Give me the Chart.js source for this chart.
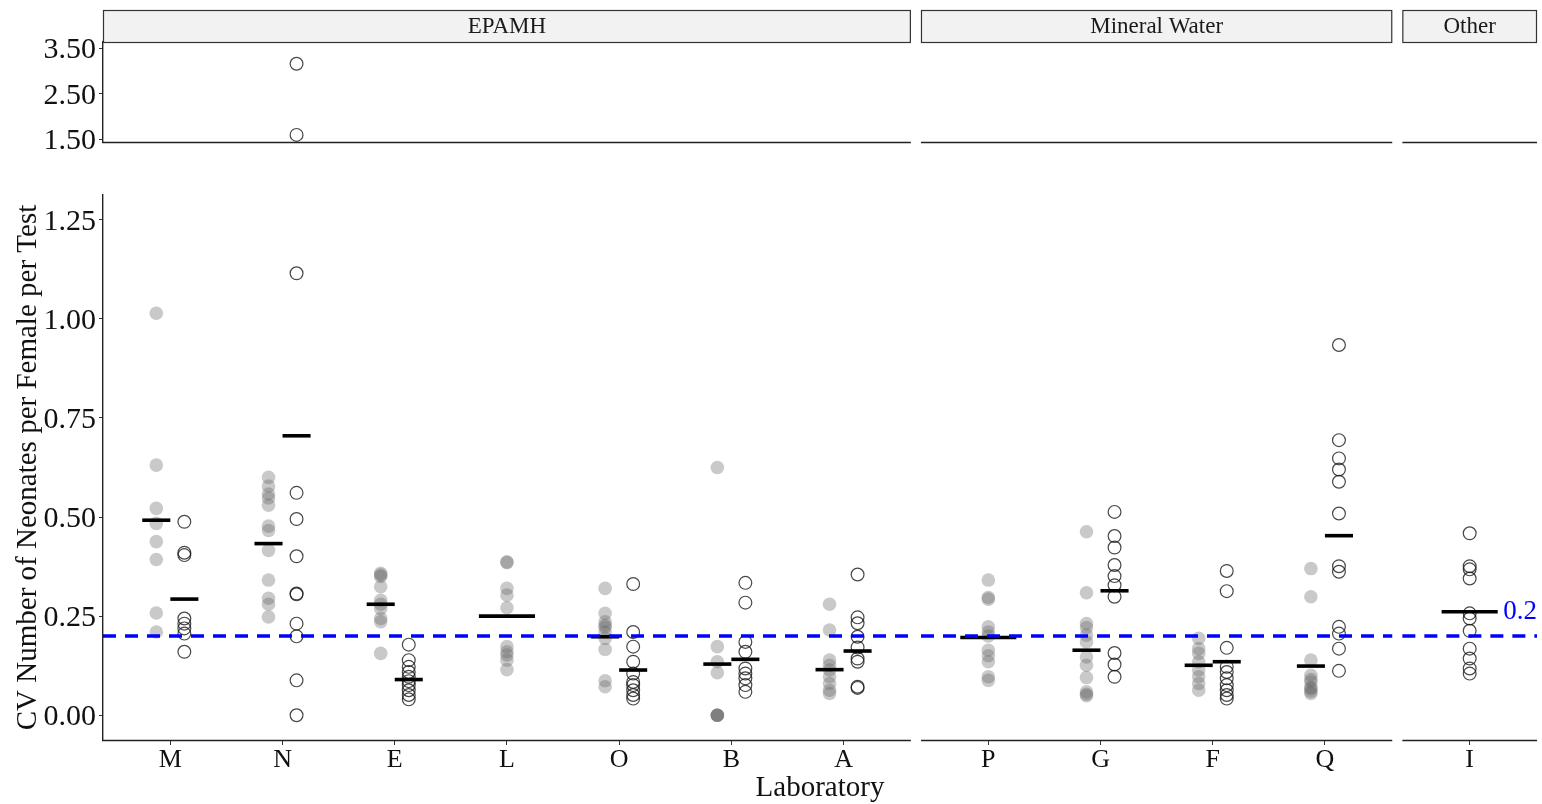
<!DOCTYPE html>
<html><head><meta charset="utf-8">
<script src="https://cdn.jsdelivr.net/npm/chart.js@4.4.1/dist/chart.umd.min.js"></script>
<style>
html,body{margin:0;padding:0;background:#fff;overflow:hidden;}
#wrap{position:relative;width:1542px;height:804px;background:#fff;}
#cTop{position:absolute;left:0;top:0;}
#cBot{position:absolute;left:0;top:160px;}
</style></head><body>
<div id="wrap">
<canvas id="cTop" width="1542" height="160"></canvas>
<canvas id="cBot" width="1542" height="644"></canvas>
</div>
<script>
// ---------------- DATA ----------------
const facetNames = ['EPAMH', 'Mineral Water', 'Other'];
const facetLabs = [['M','N','E','L','O','B','A'], ['P','G','F','Q'], ['I']];
const labs = facetLabs.flat();

// filled grey points (one group) per laboratory, in the order of `labs`
const filledCV = [
  [1.014, 0.631, 0.522, 0.484, 0.438, 0.393, 0.258, 0.210],                       // M
  [0.600, 0.578, 0.558, 0.548, 0.530, 0.477, 0.466, 0.416, 0.341, 0.295, 0.280, 0.248], // N
  [0.358, 0.354, 0.350, 0.324, 0.290, 0.280, 0.269, 0.244, 0.236, 0.156],          // E
  [0.387, 0.385, 0.320, 0.303, 0.271, 0.173, 0.160, 0.152, 0.139, 0.115],          // L
  [0.320, 0.257, 0.236, 0.227, 0.222, 0.210, 0.194, 0.166, 0.087, 0.072],          // O
  [0.625, 0.173, 0.135, 0.107, 0.0, 0.0, 0.0, 0.0],                                // B
  [0.280, 0.215, 0.139, 0.126, 0.114, 0.097, 0.080, 0.063, 0.055],                 // A
  [0.341, 0.297, 0.293, 0.223, 0.210, 0.200, 0.164, 0.150, 0.135, 0.097, 0.088],   // P
  [0.463, 0.309, 0.231, 0.221, 0.202, 0.185, 0.147, 0.126, 0.095, 0.059, 0.053, 0.049], // G
  [0.194, 0.168, 0.156, 0.135, 0.114, 0.097, 0.080, 0.063],                        // F
  [0.370, 0.299, 0.139, 0.101, 0.090, 0.084, 0.070, 0.067, 0.060, 0.055],          // Q
  []                                                                               // I
];
// open circles (other group) per laboratory
const openCV = [
  [0.488, 0.410, 0.404, 0.244, 0.231, 0.219, 0.206, 0.160],                        // M
  [3.16, 1.60, 1.115, 0.561, 0.495, 0.401, 0.307, 0.305, 0.231, 0.199, 0.088, 0.0],// N
  [0.178, 0.139, 0.122, 0.109, 0.097, 0.086, 0.076, 0.063, 0.051, 0.040],          // E
  [],                                                                              // L
  [0.331, 0.210, 0.173, 0.135, 0.105, 0.084, 0.076, 0.063, 0.051, 0.042],          // O
  [0.334, 0.284, 0.185, 0.160, 0.118, 0.105, 0.093, 0.076, 0.059],                 // B
  [0.355, 0.247, 0.232, 0.198, 0.171, 0.143, 0.135, 0.072, 0.069],                 // A
  [],                                                                              // P
  [0.513, 0.452, 0.423, 0.379, 0.351, 0.328, 0.299, 0.157, 0.128, 0.097],          // G
  [0.364, 0.313, 0.170, 0.122, 0.109, 0.093, 0.076, 0.063, 0.051, 0.042],          // F
  [0.934, 0.694, 0.648, 0.620, 0.589, 0.509, 0.376, 0.362, 0.223, 0.206, 0.168, 0.112], // Q
  [0.459, 0.376, 0.368, 0.345, 0.257, 0.244, 0.213, 0.168, 0.143, 0.118, 0.105]    // I
];
// group means (black bars)
const filledMean = [0.492, 0.433, 0.280, 0.250, 0.198, 0.129, 0.115, 0.196, 0.164, 0.126, 0.124, null];
const openMean   = [0.293, 0.705, 0.090, null, 0.114, 0.141, 0.162, null, 0.314, 0.135, 0.453, 0.261];

const refValue = 0.2;
const refText = '0.2';
const refTextY = 0.26;
const lowerTicks = [0, 0.25, 0.5, 0.75, 1.0, 1.25];
const upperTicks = [1.5, 2.5, 3.5];
const yTitle = 'CV Number of Neonates per Female per Test';
const xTitle = 'Laboratory';

// ---------------- LAYOUT (discrete facet positions) ----------------
const EXPAND = 0.6, GAP = 0.09, DODGE = 0.125;
const panels = [];
const labX = [];
let cursor = 0;
facetLabs.forEach((ls, i) => {
  const start = cursor;
  const end = start + ls.length - 1 + 2 * EXPAND;
  panels.push({ name: facetNames[i], start, end });
  ls.forEach((l, j) => labX.push(start + EXPAND + j));
  cursor = end + GAP;
});
const X_MAX = panels[panels.length - 1].end;

function hasBoth(i) { return filledCV[i].length > 0 && openCV[i].length > 0; }
function pointsOf(series, sign, lo, hi) {
  const out = [];
  labs.forEach((l, i) => {
    const x = labX[i] + (hasBoth(i) ? sign * DODGE : 0);
    series[i].forEach(v => { if (v >= lo && v <= hi) out.push({ x, y: v }); });
  });
  return out;
}
function meansOf(series, sign, lo, hi) {
  const out = [];
  labs.forEach((l, i) => {
    const v = series[i];
    if (v === null || v < lo || v > hi) return;
    const both = hasBoth(i);
    out.push({ x: labX[i] + (both ? sign * DODGE : 0), y: v, half: both ? DODGE : 2 * DODGE });
  });
  return out;
}

Chart.defaults.font.family = '"Liberation Serif", "Times New Roman", serif';
Chart.defaults.color = '#111';

const FONT_YTICK = 30, FONT_XTICK = 26, FONT_TITLE = 29, FONT_STRIP = 23;

const facetPlugin = {
  id: 'facetPlugin',
  afterDatasetsDraw(chart, args, opts) {
    const { ctx, chartArea } = chart;
    const xs = chart.scales.x;
    ctx.save();
    // per-panel axis line at the bottom
    ctx.strokeStyle = '#222';
    ctx.lineWidth = 1.5;
    panels.forEach(p => {
      const x0 = xs.getPixelForValue(p.start), x1 = xs.getPixelForValue(p.end);
      ctx.beginPath();
      ctx.moveTo(x0 - (p.start === 0 ? 1 : 0), chartArea.bottom + 0.5);
      ctx.lineTo(x1, chartArea.bottom + 0.5);
      ctx.stroke();
    });
    if (opts.strips) {
      const h = 32, y0 = chartArea.top - h;
      panels.forEach(p => {
        const x0 = xs.getPixelForValue(p.start), x1 = xs.getPixelForValue(p.end);
        ctx.fillStyle = '#f2f2f2';
        ctx.fillRect(x0, y0, x1 - x0, h);
        ctx.strokeStyle = '#333';
        ctx.lineWidth = 1.2;
        ctx.strokeRect(x0 + 0.5, y0 + 0.5, x1 - x0 - 1, h);
        ctx.fillStyle = '#1a1a1a';
        ctx.font = FONT_STRIP + 'px "Liberation Serif", serif';
        ctx.textAlign = 'center';
        ctx.textBaseline = 'middle';
        ctx.fillText(p.name, (x0 + x1) / 2, y0 + h / 2 + 1);
      });
    }
    if (opts.refLabel) {
      const ys = chart.scales.y;
      ctx.fillStyle = '#0000ff';
      ctx.font = '27px "Liberation Serif", serif';
      ctx.textAlign = 'center';
      ctx.textBaseline = 'middle';
      ctx.fillText(refText, xs.getPixelForValue(labX[labX.length - 1] + 0.45), ys.getPixelForValue(refTextY));
    }
    ctx.restore();
  }
};

function makeDatasets(lo, hi, withRef) {
  const ds = [];
  if (withRef) {
    panels.forEach(p => ds.push({
      label: 'ref', showLine: true, order: 0,
      data: [{ x: p.start, y: refValue }, { x: p.end, y: refValue }],
      borderColor: '#0000ff', borderWidth: 3.5, borderDash: [13, 9],
      pointRadius: 0, fill: false
    }));
  }
  const meanStyle = {
    pointStyle: 'line', borderColor: '#000', backgroundColor: '#000', pointBorderWidth: 3.6,
    pointRadius: ctx => {
      const d = ctx.raw; const s = ctx.chart.scales.x;
      return d ? Math.abs(s.getPixelForValue(d.x + d.half) - s.getPixelForValue(d.x)) : 0;
    }
  };
  ds.push(Object.assign({ label: 'mean filled', order: 1, data: meansOf(filledMean, -1, lo, hi) }, meanStyle));
  ds.push(Object.assign({ label: 'mean open', order: 1, data: meansOf(openMean, 1, lo, hi) }, meanStyle));
  ds.push({
    label: 'open', order: 2, data: pointsOf(openCV, 1, lo, hi),
    pointRadius: 6.4, pointBorderWidth: 1.2,
    pointBackgroundColor: 'rgba(0,0,0,0)', pointBorderColor: 'rgba(25,25,25,0.8)'
  });
  ds.push({
    label: 'filled', order: 3, data: pointsOf(filledCV, -1, lo, hi),
    pointRadius: 6.8, pointBorderWidth: 0,
    pointBackgroundColor: 'rgba(100,100,100,0.35)', pointBorderColor: 'rgba(0,0,0,0)'
  });
  return ds;
}

const yCommon = (ticks, min, max, title) => ({
  type: 'linear', min, max,
  afterBuildTicks: s => { s.ticks = ticks.map(v => ({ value: v })); },
  afterFit: s => { s.width = 103; },
  ticks: { callback: v => Number(v).toFixed(2), padding: 3, labelOffset: 2, font: { size: FONT_YTICK, lineHeight: 1.0 }, color: '#111' },
  grid: { drawOnChartArea: false, drawTicks: true, tickLength: 4, color: '#333', lineWidth: 1 },
  border: { display: true, color: '#222', width: 1.4 },
  title: title ? { display: true, text: title, font: { size: FONT_TITLE }, color: '#111', padding: { top: 11, bottom: 0 } } : { display: false }
});

new Chart(document.getElementById('cTop'), {
  type: 'scatter',
  data: { datasets: makeDatasets(1.44, 3.64, false) },
  options: {
    responsive: false, animation: false, events: [],
    layout: { autoPadding: false, padding: { top: 42, bottom: 14, left: 0, right: 5 } },
    plugins: { legend: { display: false }, tooltip: { enabled: false }, facetPlugin: { strips: true, refLabel: false } },
    scales: {
      x: { type: 'linear', min: 0, max: X_MAX, display: false },
      y: yCommon(upperTicks, 1.444, 3.637, null)
    }
  },
  plugins: [facetPlugin]
});

new Chart(document.getElementById('cBot'), {
  type: 'scatter',
  data: { datasets: makeDatasets(-0.0625, 1.3125, true) },
  options: {
    responsive: false, animation: false, events: [],
    layout: { autoPadding: false, padding: { top: 35, bottom: 0, left: 0, right: 5 } },
    plugins: { legend: { display: false }, tooltip: { enabled: false }, facetPlugin: { strips: false, refLabel: true } },
    scales: {
      x: {
        type: 'linear', min: 0, max: X_MAX,
        afterBuildTicks: s => { s.ticks = labX.map(v => ({ value: v })); },
        afterFit: s => { s.height = 64; },
        ticks: { autoSkip: false, maxRotation: 0, minRotation: 0, padding: 2,
                 callback: (v, i) => labs[i], font: { size: FONT_XTICK, lineHeight: 1.0 }, color: '#111' },
        grid: { drawOnChartArea: false, drawTicks: true, tickLength: 5, color: '#333', lineWidth: 1 },
        border: { display: false },
        title: { display: true, text: xTitle, font: { size: FONT_TITLE }, color: '#111', padding: { top: 0, bottom: -2 } }
      },
      y: yCommon(lowerTicks, -0.0625, 1.3125, yTitle)
    }
  },
  plugins: [facetPlugin]
});
</script>
</body></html>
